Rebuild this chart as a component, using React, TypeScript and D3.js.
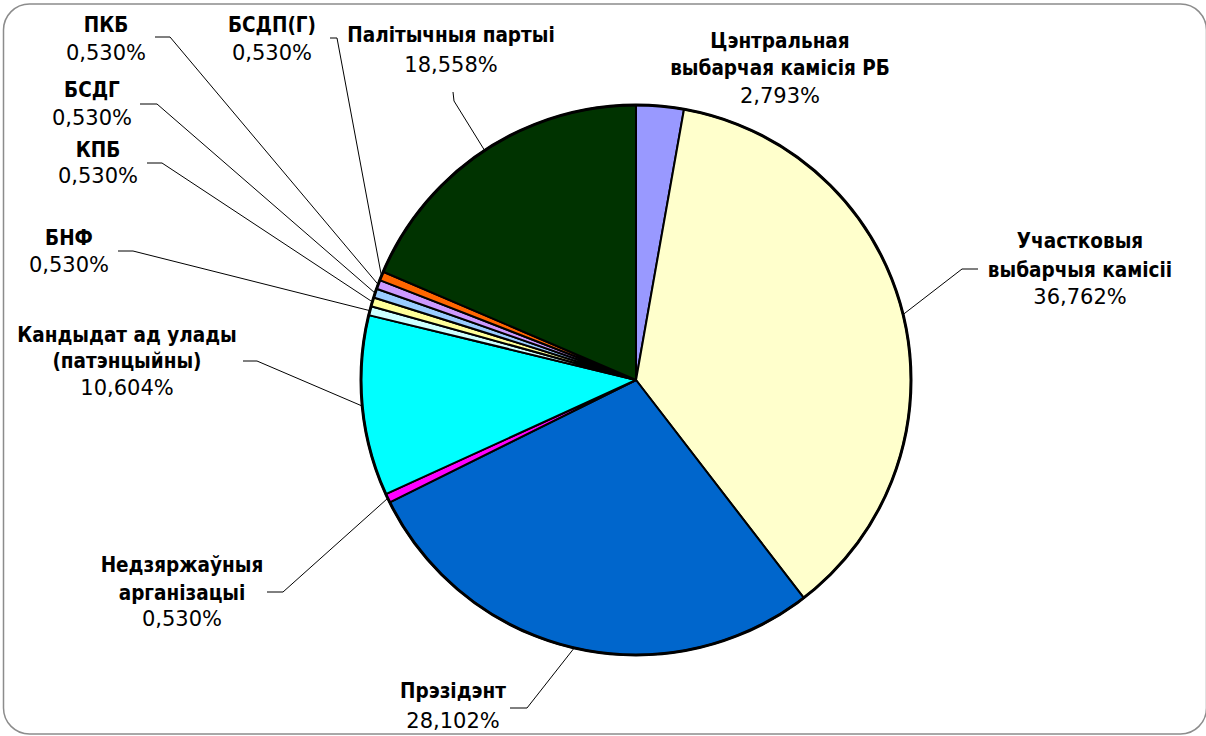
import React from "react";
import * as d3 from "d3";

const categories = [
  "Цэнтральная выбарчая камісія РБ",
  "Участковыя выбарчыя камісіі",
  "Прэзідэнт",
  "Недзяржаўныя арганізацыі",
  "Кандыдат ад улады (патэнцыйны)",
  "БНФ",
  "КПБ",
  "БСДГ",
  "ПКБ",
  "БСДП(Г)",
  "Палітычныя партыі",
];
const values = [2.793, 36.762, 28.102, 0.53, 10.604, 0.53, 0.53, 0.53, 0.53, 0.53, 18.558];
const nameLines = [
  ["Цэнтральная", "выбарчая камісія РБ"],
  ["Участковыя", "выбарчыя камісіі"],
  ["Прэзідэнт"],
  ["Недзяржаўныя", "арганізацыі"],
  ["Кандыдат ад улады", "(патэнцыйны)"],
  ["БНФ"],
  ["КПБ"],
  ["БСДГ"],
  ["ПКБ"],
  ["БСДП(Г)"],
  ["Палітычныя партыі"],
];

// styles / layout (kept separate from data)
const colors = [
  "#9999FF", "#FFFFCC", "#0066CC", "#FF00FF", "#00FFFF",
  "#CCFFFF", "#FFFF99", "#99CCFF", "#CC99FF", "#FF6600", "#003300",
];
type Layout = { cx: number; ys: number[]; leader?: [number, number, number, number] };
const layout: Layout[] = [
  { cx: 780, ys: [48, 75, 103] },
  { cx: 1080, ys: [248, 277, 304], leader: [962, 269, 978, 269] },
  { cx: 453, ys: [698, 728], leader: [527, 708, 510, 708] },
  { cx: 182, ys: [572, 600, 626], leader: [283, 592, 267, 592] },
  { cx: 127, ys: [342, 368, 395], leader: [257, 361, 243, 361] },
  { cx: 69, ys: [245, 272], leader: [133, 251, 118, 251] },
  { cx: 98, ys: [157, 183], leader: [162, 163, 147, 163] },
  { cx: 92, ys: [97, 125], leader: [157, 104, 140, 104] },
  { cx: 106, ys: [32, 60], leader: [170, 37, 155, 37] },
  { cx: 272, ys: [32, 60], leader: [337, 38, 330, 38] },
  { cx: 451, ys: [42, 72], leader: [454, 101, 453, 92] },
];

const W = 1206;
const H = 736;
const CX = 636;
const CY = 380;
const R = 275;

const fmt = (v: number) => d3.format(".3f")(v).replace(".", ",") + "%";

export default function App() {
  const pie = d3
    .pie<number>()
    .sort(null)
    .value((d) => d)
    .startAngle(0)
    .endAngle(2 * Math.PI);
  const arcs = pie(values);
  const arc = d3.arc<d3.PieArcDatum<number>>().innerRadius(0).outerRadius(R);
  const edge = d3.arc<d3.PieArcDatum<number>>().innerRadius(R).outerRadius(R);

  return (
    <svg
      width={W}
      height={H}
      style={{ position: "absolute", left: 0, top: 0, background: "#fff" }}
    >
      <rect x={3.5} y={4} width={1203} height={730} rx={26} ry={26} fill="#fff" stroke="#8c8c8c" strokeWidth={1.5} />
      <g transform={`translate(${CX},${CY})`}>
        {arcs.map((a, i) => (
          <path key={i} d={arc(a) || ""} fill={colors[i]} stroke="#000" strokeWidth={2} strokeLinejoin="round" />
        ))}
        <circle r={R} fill="none" stroke="#000" strokeWidth={3} />
      </g>
      {arcs.map((a, i) => {
        const L = layout[i];
        if (!L.leader) return null;
        const [px, py] = edge.centroid(a);
        const [ex, ey, tx, ty] = L.leader;
        return (
          <polyline
            key={"l" + i}
            points={`${CX + px},${CY + py} ${ex},${ey} ${tx},${ty}`}
            fill="none"
            stroke="#000"
            strokeWidth={1}
          />
        );
      })}
      {categories.map((c, i) => {
        const L = layout[i];
        const lines = nameLines[i];
        return (
          <g key={"t" + i} textAnchor="middle" fill="#000">
            {lines.map((ln, j) => (
              <text
                key={j}
                x={L.cx}
                y={L.ys[j]}
                fontFamily="'DejaVu Sans Condensed', 'DejaVu Sans', sans-serif"
                fontStretch="condensed"
                fontWeight="bold"
                fontSize={20.5}
              >
                {ln}
              </text>
            ))}
            <text
              x={L.cx}
              y={L.ys[lines.length]}
              fontFamily="'DejaVu Sans', Verdana, sans-serif"
              fontSize={21}
            >
              {fmt(values[i])}
            </text>
          </g>
        );
      })}
    </svg>
  );
}
